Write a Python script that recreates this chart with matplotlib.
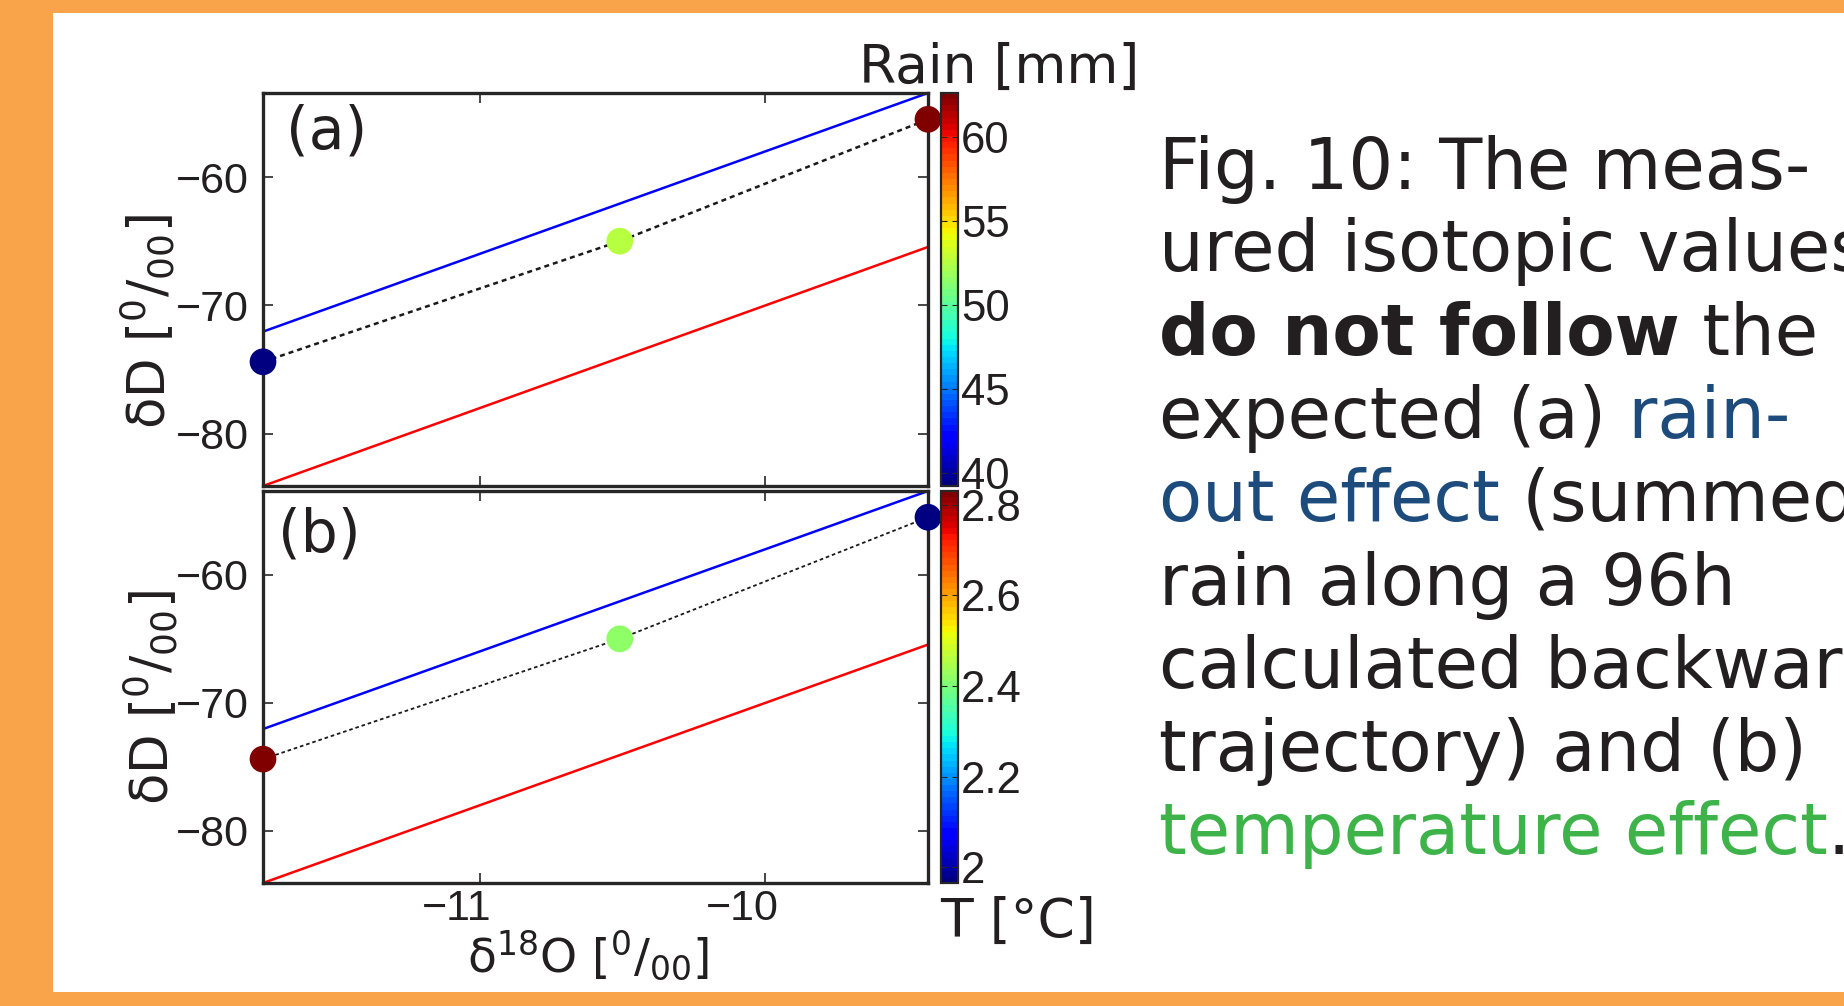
import matplotlib
matplotlib.use('Agg')
import matplotlib.pyplot as plt
from matplotlib.patches import Rectangle
from matplotlib.transforms import ScaledTranslation

# measured isotopic values (same three samples in both panels)
d18O = [-11.76, -10.51, -9.43]
dD = [-74.4, -65.0, -55.5]
rain = [39.2, 52.4, 62.6]       # summed rain along trajectory [mm]
temp = [2.83, 2.42, 1.965]      # temperature [deg C]

# meteoric water lines, end points
mwl_d18O = [-11.76, -9.43]
gmwl_dD = [-84.08, -65.45]      # red line
mmwl_dD = [-72.05, -53.45]      # blue line

rain_ticks = [40, 45, 50, 55, 60]
temp_ticks = [2, 2.2, 2.4, 2.6, 2.8]
temp_ticklabels = ['2', '2.2', '2.4', '2.6', '2.8']

caption = [
    [("Fig. 10: The meas-", 'k', 'normal')],
    [("ured isotopic values", 'k', 'normal')],
    [("do not follow", 'k', 'bold'), (" the", 'k', 'normal')],
    [("expected (a)", 'k', 'normal'), (" rain-", 'b', 'normal')],
    [("out effect", 'b', 'normal'), (" (summed", 'k', 'normal')],
    [("rain along a 96h", 'k', 'normal')],
    [("calculated backward", 'k', 'normal')],
    [("trajectory) and (b)", 'k', 'normal')],
    [("temperature effect", 'g', 'normal'), (".", 'k', 'normal')],
]
caption_baselines = [189, 271, 355, 438, 521, 605, 688, 771, 854]
caption_colors = {'k': '#231f20', 'b': '#1d4b7c', 'g': '#3db34a'}

W, H = 1844, 1006
TXT = '#231f20'
SPINE = '#262626'
jet = matplotlib.colormaps['jet'].resampled(64)

plt.rcParams['font.family'] = ['DejaVu Sans']

fig = plt.figure(figsize=(W / 100, H / 100), dpi=100)
fig.patch.set_facecolor('#f9a44b')

# white page inside the orange frame
bg = fig.add_axes([0, 0, 1, 1], zorder=-1)
bg.set_xlim(0, W)
bg.set_ylim(H, 0)
bg.axis('off')
bg.add_patch(Rectangle((53, 13), W - 53, 992 - 13, fc='white', ec='none'))


def px_box(x0, y0, x1, y1):
    return [x0 / W, 1 - y1 / H, (x1 - x0) / W, (y1 - y0) / H]


ax_a = fig.add_axes(px_box(263, 93, 928, 486))
ax_b = fig.add_axes(px_box(263, 491, 928, 883))
cax_a = fig.add_axes(px_box(941, 93, 958, 486))
cax_b = fig.add_axes(px_box(941, 491, 958, 883))

panels = [
    (ax_a, cax_a, rain, rain_ticks, None, '(a)', (0.034, 0.90), 1.8),
    (ax_b, cax_b, temp, temp_ticks, temp_ticklabels, '(b)', (0.023, 0.888), 1.3),
]

for ax, cax, vals, ticks, ticklabels, tag, tagpos, dlw in panels:
    ax.plot(mwl_d18O, mmwl_dD, color='#0000ff', lw=1.8)
    ax.plot(mwl_d18O, gmwl_dD, color='#ff0000', lw=1.8)
    ax.plot(d18O, dD, color='#1a1a1a', lw=dlw, ls=(0, (2, 1.6)))
    sc = ax.scatter(d18O, dD, c=vals, cmap=jet, vmin=min(vals), vmax=max(vals),
                    s=370, edgecolors='none', zorder=5, clip_on=False)
    ax.set_xlim(min(mwl_d18O), max(mwl_d18O))
    ax.set_ylim(min(gmwl_dD), max(mmwl_dD))
    ax.set_xticks([-11, -10])
    ax.set_yticks([-80, -70, -60])
    ax.tick_params(direction='in', top=True, right=True, length=7, width=1.2,
                   color=SPINE, labelsize=31, labelcolor=TXT,
                   labelfontfamily='Liberation Sans')
    ax.tick_params(axis='y', pad=10)
    ax.tick_params(axis='x', pad=4)
    for sp in ax.spines.values():
        sp.set_linewidth(2.4)
        sp.set_color(SPINE)
    ax.text(tagpos[0], tagpos[1], tag, transform=ax.transAxes, fontsize=42,
            color=TXT, ha='left', va='center')
    ax.set_ylabel('δD [$^0$/$_{00}$]', fontsize=37, color=TXT)

    cb = fig.colorbar(sc, cax=cax, ticks=ticks)
    if ticklabels:
        cb.set_ticklabels(ticklabels)
    cb.outline.set_linewidth(1.6)
    cb.outline.set_edgecolor(SPINE)
    cax.tick_params(left=True, right=True, direction='in', length=4, width=0.8,
                    color=SPINE, labelsize=31.5, labelcolor=TXT, pad=2,
                    labelfontfamily='Liberation Sans')

ax_a.tick_params(labelbottom=False)
ax_a.yaxis.set_label_coords(-0.174, 0.417)
ax_b.yaxis.set_label_coords(-0.170, 0.474)
for ax in (ax_a, ax_b):
    ax.yaxis.label.set_va('center')

ax_b.set_xlabel('δ$^{18}$O [$^0$/$_{00}$]', fontsize=34, color=TXT)
ax_b.xaxis.set_label_coords(0.489, -0.227)
ax_b.xaxis.label.set_va('baseline')

shift = ScaledTranslation(-23 / 100, 0, fig.dpi_scale_trans)
for lbl in ax_b.get_xticklabels():
    lbl.set_transform(lbl.get_transform() + shift)

# colorbar titles
fig.text(999 / W, 1 - 83 / H, 'Rain [mm]', fontsize=38.5, color=TXT,
         ha='center', va='baseline')
fig.text(1018 / W, 1 - 937 / H, 'T [°C]', fontsize=38.5, color=TXT,
         ha='center', va='baseline')

# caption text on the right, mixed colours / weights per line
for pieces, base in zip(caption, caption_baselines):
    yf = 1 - base / H
    prev = None
    for s, c, wt in pieces:
        if prev is None:
            prev = bg.annotate(s, xy=(1159 / W, yf), xycoords='figure fraction',
                               fontsize=50.8, color=caption_colors[c],
                               fontweight=wt, ha='left', va='baseline')
        else:
            prev = bg.annotate(s, xy=(1, yf), xycoords=(prev, 'figure fraction'),
                               fontsize=50.8, color=caption_colors[c],
                               fontweight=wt, ha='left', va='baseline')

fig.savefig('out.png', dpi=100, facecolor=fig.get_facecolor())
